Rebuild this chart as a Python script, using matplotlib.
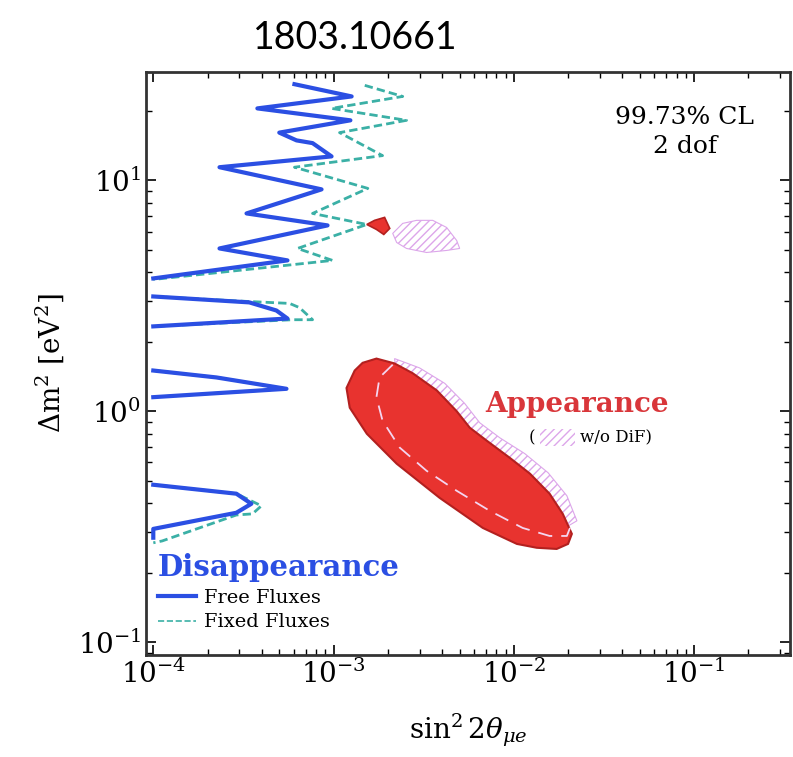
import matplotlib
matplotlib.use("Agg")
import matplotlib.pyplot as plt
from matplotlib.patches import Rectangle

plt.rcParams['font.family'] = ['DejaVu Serif']
plt.rcParams['mathtext.fontset'] = 'dejavuserif'
plt.rcParams['hatch.linewidth'] = 1.0

# Disappearance, free fluxes (blue solid)
free_top_x = [6.07e-4, 1.26e-3, 3.78e-4, 1.24e-3, 5.0e-4, 6.23e-4, 7.65e-4, 9.75e-4,
              2.33e-4, 8.58e-4, 3.29e-4, 9.26e-4, 2.33e-4, 5.55e-4, 1.0e-4]
free_top_y = [26.1, 23.1, 20.5, 18.2, 16.1, 14.9, 14.5, 12.7,
              11.4, 9.14, 7.19, 6.38, 5.07, 4.50, 3.76]
free_l2_x = [1.0e-4, 3.41e-4, 4.82e-4, 5.55e-4, 1.0e-4]
free_l2_y = [3.14, 2.96, 2.73, 2.52, 2.33]
free_l3_x = [1.0e-4, 2.24e-4, 5.48e-4, 1.0e-4]
free_l3_y = [1.50, 1.40, 1.25, 1.15]
free_l4_x = [1.0e-4, 2.89e-4, 3.50e-4, 2.89e-4, 1.0e-4, 1.0e-4]
free_l4_y = [0.480, 0.439, 0.397, 0.363, 0.309, 0.283]

# Disappearance, fixed fluxes (teal dashed)
fixed_top_x = [1.49e-3, 2.42e-3, 9.75e-4, 2.54e-3, 1.08e-3, 1.87e-3, 6.07e-4, 1.55e-3,
               7.65e-4, 1.53e-3, 6.31e-4, 9.87e-4, 1.0e-4]
fixed_top_y = [25.8, 23.1, 20.5, 18.2, 16.1, 12.8, 11.4, 9.23,
               7.19, 6.44, 5.07, 4.50, 3.72]
fixed_l2_x = [1.0e-4, 2.75e-4, 5.70e-4, 6.47e-4, 7.65e-4, 5.92e-4, 1.0e-4]
fixed_l2_y = [3.14, 3.01, 2.93, 2.81, 2.49, 2.49, 2.33]
fixed_l4_x = [1.0e-4, 2.89e-4, 3.98e-4, 3.55e-4, 2.89e-4, 1.12e-4, 1.0e-4]
fixed_l4_y = [0.480, 0.439, 0.389, 0.359, 0.355, 0.274, 0.269]

# Appearance region (red) and small island
app_x = [1.18e-3, 1.31e-3, 1.45e-3, 1.73e-3, 2.18e-3, 2.75e-3, 3.74e-3, 4.82e-3,
         5.70e-3, 7.08e-3, 9.50e-3, 1.23e-2, 1.58e-2, 1.87e-2, 2.10e-2, 2.0e-2,
         1.73e-2, 1.34e-2, 1.04e-2, 6.73e-3, 3.88e-3, 2.24e-3, 1.53e-3, 1.23e-3]
app_y = [1.26, 1.50, 1.62, 1.69, 1.61, 1.46, 1.23, 1.00,
         0.848, 0.745, 0.628, 0.536, 0.439, 0.359, 0.294, 0.266,
         0.253, 0.256, 0.266, 0.312, 0.421, 0.592, 0.798, 1.035]
island_x = [1.53e-3, 1.69e-3, 1.92e-3, 2.05e-3, 1.90e-3, 1.73e-3]
island_y = [6.44, 6.71, 6.91, 6.19, 5.83, 6.13]

# Appearance without DiF (pink hatched)
nodif_x = [2.18e-3, 3.0e-3, 4.14e-3, 5.34e-3, 6.47e-3, 8.36e-3, 1.15e-2, 1.55e-2,
           1.97e-2, 2.24e-2, 1.80e-2, 4.41e-3, 2.33e-3]
nodif_y = [1.69, 1.54, 1.32, 1.08, 0.891, 0.767, 0.655, 0.541,
           0.430, 0.335, 0.303, 0.675, 1.17]
nodif_isl_x = [2.13e-3, 2.42e-3, 2.89e-3, 3.55e-3, 4.24e-3, 4.82e-3, 5.01e-3, 4.24e-3,
               3.28e-3, 2.54e-3, 2.24e-3]
nodif_isl_y = [5.89, 6.51, 6.71, 6.71, 6.25, 5.49, 5.07, 4.97, 4.87, 5.07, 5.38]

# inner white dashed contour
inner_x = [2.13e-3, 1.80e-3, 1.73e-3, 1.87e-3, 2.33e-3, 3.28e-3, 4.82e-3, 7.36e-3,
           1.12e-2, 1.58e-2, 1.97e-2, 2.05e-2]
inner_y = [1.59, 1.40, 1.15, 0.910, 0.695, 0.552, 0.452, 0.370,
           0.312, 0.288, 0.288, 0.312]

blue = '#2b4fe3'
teal = '#3bb0a6'
red = '#e8332f'
pink = '#dca6ea'

fig = plt.figure(figsize=(7.93, 7.57), dpi=100)
ax = fig.add_axes([0.184, 0.135, 0.812, 0.770])
ax.set_xscale('log')
ax.set_yscale('log')

ax.fill(nodif_x, nodif_y, facecolor='none', edgecolor=pink, hatch='////', lw=0.8)
ax.fill(nodif_isl_x, nodif_isl_y, facecolor='none', edgecolor=pink, hatch='////', lw=0.8)
ax.fill(app_x, app_y, facecolor=red, edgecolor='#b3201f', lw=1.5)
ax.fill(island_x, island_y, facecolor=red, edgecolor='#b3201f', lw=1.2)
ax.plot(inner_x, inner_y, color='#f4d6f0', lw=1.3, dashes=(8, 5))

for xs, ys in [(fixed_top_x, fixed_top_y), (fixed_l2_x, fixed_l2_y),
               (free_l3_x, free_l3_y), (fixed_l4_x, fixed_l4_y)]:
    ax.plot(xs, ys, color=teal, lw=2, dashes=(3, 1.5))
for xs, ys in [(free_top_x, free_top_y), (free_l2_x, free_l2_y),
               (free_l3_x, free_l3_y), (free_l4_x, free_l4_y)]:
    ax.plot(xs, ys, color=blue, lw=3)

ax.set_xlim(9.1e-5, 0.34)
ax.set_ylim(0.088, 29.5)

ax.tick_params(which='both', direction='in', top=True, right=True, labelsize=20)
ax.tick_params(which='major', length=7, width=1.2)
ax.tick_params(which='minor', length=4, width=1.0)
for s in ax.spines.values():
    s.set_linewidth(2)
    s.set_color('#333333')

ax.set_xlabel(r'$\sin^2 2\theta_{\mu e}$', fontsize=20, labelpad=16)
ax.set_ylabel(r'$\Delta\mathrm{m}^2\ [\mathrm{eV}^2]$', fontsize=20, labelpad=8)

fig.text(0.448, 0.95, '1803.10661', family='Lato', fontsize=27, ha='center', va='center')

ax.text(0.837, 0.897, '99.73% CL\n2 dof', transform=ax.transAxes, ha='center',
        va='center', fontsize=18, linespacing=1.35)
ax.text(0.67, 0.429, 'Appearance', transform=ax.transAxes, ha='center', va='center',
        fontsize=20, fontweight='bold', color='#d9363a')
ax.text(0.60, 0.372, '(', transform=ax.transAxes, ha='center', va='center', fontsize=12)
ax.add_patch(Rectangle((0.612, 0.358), 0.054, 0.03, transform=ax.transAxes,
                       facecolor='none', edgecolor=pink, hatch='////', lw=0))
ax.text(0.674, 0.372, 'w/o DiF)', transform=ax.transAxes, ha='left', va='center',
        fontsize=12)

ax.plot([], [], color=blue, lw=3, label='Free Fluxes')
ax.plot([], [], color=teal, lw=1.2, ls='--', label='Fixed Fluxes')
leg = ax.legend(loc='lower left', bbox_to_anchor=(0.0, 0.02), frameon=False, fontsize=14,
                title='Disappearance', title_fontproperties={'size': 21, 'weight': 'bold'},
                handlelength=2.0, handletextpad=0.4, labelspacing=0.35, borderaxespad=0.2)
leg.get_title().set_color(blue)
leg._legend_box.align = 'left'

fig.savefig('out.png', dpi=100)
